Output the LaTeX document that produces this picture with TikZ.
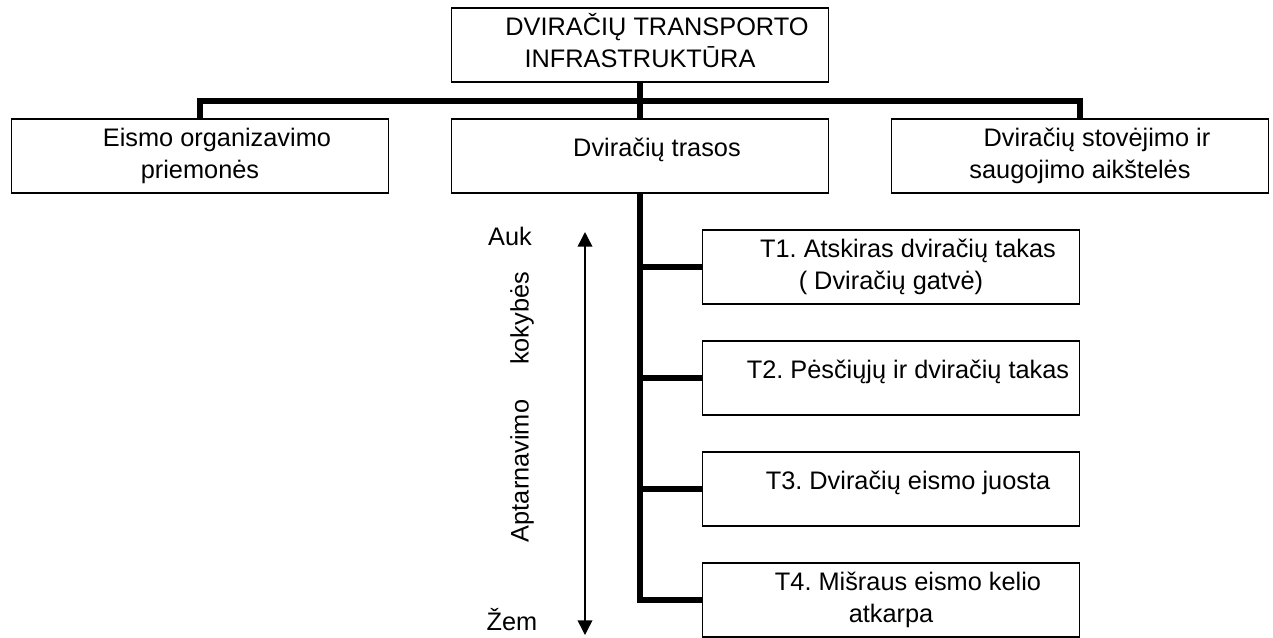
\documentclass[tikz,border=0pt]{standalone}
\usepackage{fontspec}
\setmainfont{Liberation Sans}
\usetikzlibrary{arrows.meta}

\newcommand{\boxfont}{\fontsize{19}{24}\selectfont\frenchspacing}
\newcommand{\lead}{\hspace*{25.5pt}}

\begin{document}
\begin{tikzpicture}[>={Triangle[length=11pt,width=11pt]},node distance=83.25pt,
  box/.style={draw,line width=1.2pt,minimum width=282.75pt,minimum height=55.5pt,inner sep=0pt,align=center,font=\boxfont},
  oneline/.style={text height=9pt,text depth=9pt},
  conn/.style={line width=4.5pt},
  lbl/.style={font=\boxfont,inner sep=0pt}]

\useasboundingbox (-480pt,33.75pt) rectangle (474.75pt,-444pt);

\node[box]   (infra)      {\strut\lead DVIRAČIŲ TRANSPORTO\\\strut INFRASTRUKTŪRA};
\node[box,oneline]   (trasos)[below of=infra]      {\lead Dviračių trasos};
\node[box]   (eismo)[left of=trasos,node distance=330pt]      {\strut\lead Eismo organizavimo\\\strut priemonės};
\node[box]   (stovejimo)[right of=trasos,node distance=330pt]      {\strut\lead Dviračių stovėjimo ir\\\strut saugojimo aikštelės};

\node[box]   (t1)[below of=trasos,xshift=188.25pt]      {\strut\lead T1. Atskiras dviračių takas\\\strut ( Dviračių gatvė)};
\node[box,oneline]   (t2)[below of=t1]      {\lead T2. Pėsčiųjų ir dviračių takas};
\node[box,oneline]   (t3)[below of=t2]      {\lead T3. Dviračių eismo juosta};
\node[box]   (t4)[below of=t3]      {\strut\lead T4. Mišraus eismo kelio\\\strut atkarpa};

% quality scale
\node[lbl]   (auk) at (-97.5pt,-143.25pt)      {Auk};
\node[lbl]   (zem) at (-96pt,-431.25pt)      {Žem};
\node[lbl,rotate=90]   (kokybe) at (-88.5pt,-271.5pt)      {Aptarnavimo\hspace{21pt} kokybės};
\coordinate (hi) at (-41.25pt,-140.25pt);
\coordinate (lo) at (-41.25pt,-442.5pt);
\draw[<->,line width=1.1pt] (hi) -- (lo);

% connectors
\path (infra.south) -- (trasos.north) coordinate[midway] (bus);
\draw[conn] (infra.south) -- (trasos.north);
\draw[conn] (eismo.north) |- (bus) -| (stovejimo.north);
\draw[conn] (trasos.south) |- (t4.west);
\foreach \t in {t1,t2,t3}
  \draw[conn] (trasos.south |- \t.west) -- (\t.west);
\end{tikzpicture}
\end{document}
